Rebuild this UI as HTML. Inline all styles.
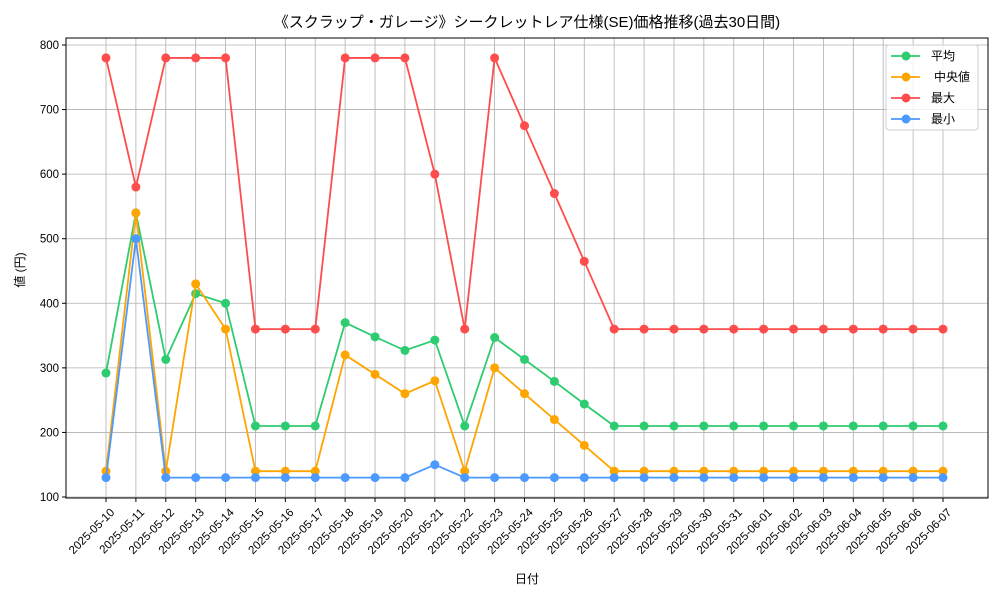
<!DOCTYPE html>
<html><head><meta charset="utf-8"><style>
body{margin:0;background:#fff}
svg text{font-family:"Liberation Sans","Noto Sans CJK JP",sans-serif;fill:#000}
</style></head><body>
<svg id="c" width="1000" height="600" viewBox="0 0 1000 600">
<rect width="1000" height="600" fill="#fff"/>
<text x="527" y="27" font-size="15" text-anchor="middle">《スクラップ・ガレージ》シークレットレア仕様(SE)価格推移(過去30日間)</text>
<g id="grid"></g>
<g id="axes"></g>
<g id="series"></g>
<text x="527" y="583" font-size="12" text-anchor="middle">日付</text>
<text transform="translate(24,270) rotate(-90)" font-size="12" text-anchor="middle">値 (円)</text>
<g id="legend"></g>
</svg>
<script>
const dates=["2025-05-10","2025-05-11","2025-05-12","2025-05-13","2025-05-14","2025-05-15","2025-05-16","2025-05-17","2025-05-18","2025-05-19","2025-05-20","2025-05-21","2025-05-22","2025-05-23","2025-05-24","2025-05-25","2025-05-26","2025-05-27","2025-05-28","2025-05-29","2025-05-30","2025-05-31","2025-06-01","2025-06-02","2025-06-03","2025-06-04","2025-06-05","2025-06-06","2025-06-07"];
const avgVals=[292,540,313,415,400,210,210,210,370,348,327,343,210,347,313,279,244,210,210,210,210,210,210,210,210,210,210,210,210];
const medVals=[140,540,140,430,360,140,140,140,320,290,260,280,140,300,260,220,180,140,140,140,140,140,140,140,140,140,140,140,140];
const maxVals=[780,580,780,780,780,360,360,360,780,780,780,600,360,780,675,570,465,360,360,360,360,360,360,360,360,360,360,360,360];
const minVals=[130,500,130,130,130,130,130,130,130,130,130,150,130,130,130,130,130,130,130,130,130,130,130,130,130,130,130,130,130];
const yTicks=[100,200,300,400,500,600,700,800];
const seriesNames=["平均","中央値","最大","最小"];
const colors=["#2ecc71","#ffa500","#ff4c4c","#4c9aff"];
const NS="http://www.w3.org/2000/svg";
const L=66,R=988,T=38,B=498;
const x=i=>106+i*(943-106)/(dates.length-1);
const y=v=>497-(v-100)*(452/700);
function mk(tag,attrs,parent){const e=document.createElementNS(NS,tag);for(const k in attrs)e.setAttribute(k,attrs[k]);parent.appendChild(e);return e;}
const grid=document.getElementById('grid'),axes=document.getElementById('axes');
dates.forEach((d,i)=>{
 const g=mk('line',{x1:x(i),x2:x(i),y1:T,y2:B,stroke:'#b0b0b0','stroke-width':0.8},grid);
 
 
 mk('line',{x1:x(i),x2:x(i),y1:B,y2:B+4,stroke:'#000'},axes);
 const t=mk('text',{transform:`translate(${x(i)+4},${B+10}) rotate(-45)`,'font-size':11.5,'text-anchor':'end','dominant-baseline':'hanging'},axes);
 t.textContent=d;
 
 
});
yTicks.forEach(v=>{
 const g=mk('line',{x1:L,x2:R,y1:y(v),y2:y(v),stroke:'#b0b0b0','stroke-width':0.8},grid);
 
 
 mk('line',{x1:L-4,x2:L,y1:y(v),y2:y(v),stroke:'#000'},axes);
 const t=mk('text',{x:L-7,y:y(v)+4,'font-size':11.5,'text-anchor':'end'},axes);
 t.textContent=v;
 
 
});
const frame=mk('rect',{x:L,y:T,width:R-L,height:B-T,fill:'none',stroke:'#000','stroke-width':1},axes);


const all=[avgVals,medVals,maxVals,minVals];
const sg=document.getElementById('series');
all.forEach((vals,s)=>{
 const g=mk('g',{},sg);
 
 
 mk('polyline',{points:vals.map((v,i)=>x(i)+','+y(v)).join(' '),fill:'none',stroke:colors[s],'stroke-width':1.8},g);
 vals.forEach((v,i)=>{const c=mk('circle',{cx:x(i),cy:y(v),r:4.5,fill:colors[s]},g);
  
  });
});
const lg=document.getElementById('legend');


mk('rect',{x:886,y:45,width:92,height:85,rx:3,fill:'#fff','fill-opacity':0.8,stroke:'#ccc'},lg);
seriesNames.forEach((n,s)=>{
 const yy=56+s*21;
 const e=mk('g',{},lg);
 
 
 mk('line',{x1:891,x2:920,y1:yy,y2:yy,stroke:colors[s],'stroke-width':1.8},e);
 mk('circle',{cx:906,cy:yy,r:4.5,fill:colors[s]},e);
 const t=mk('text',{x:s==1?934:931,y:yy+4,'font-size':12},e);
 t.textContent=n;
});
</script>
</body></html>
